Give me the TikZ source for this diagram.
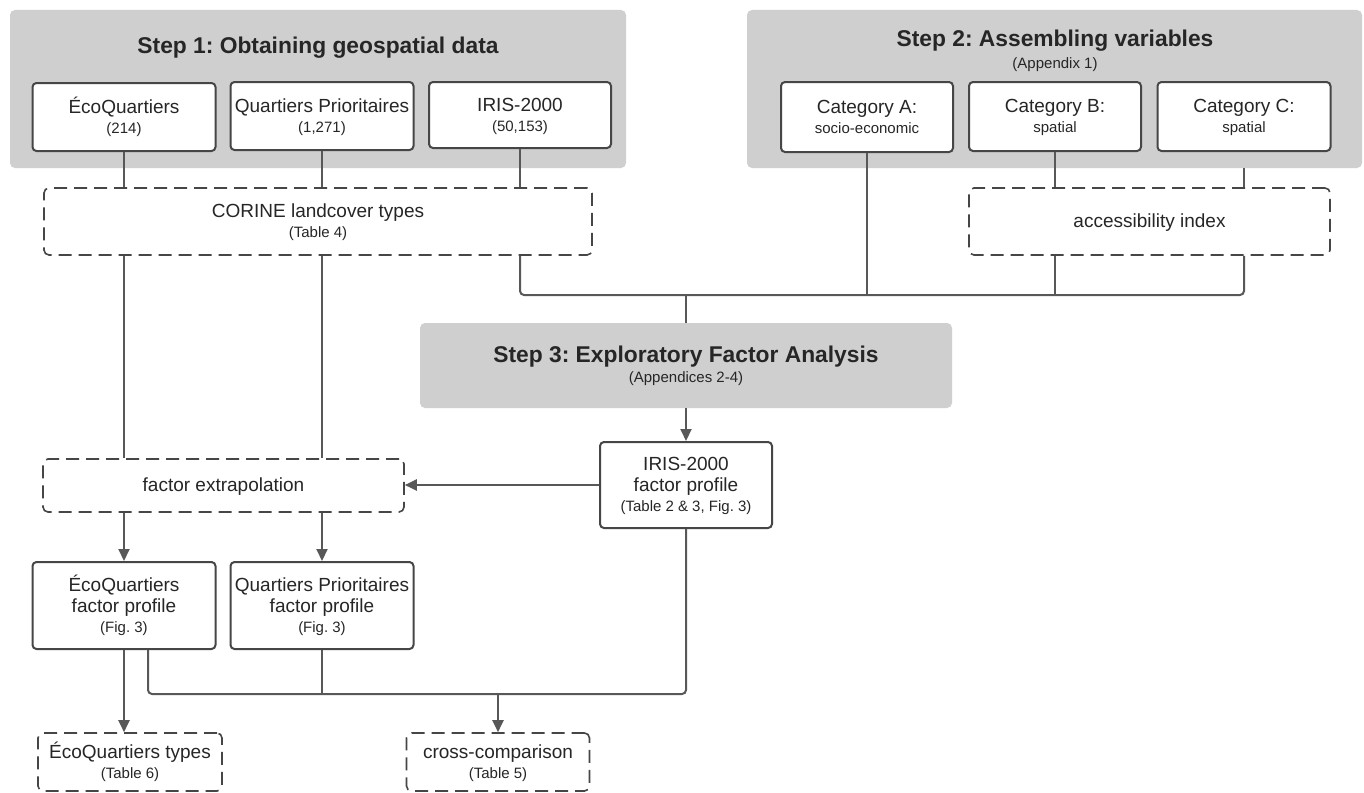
\documentclass[tikz,border=0pt]{standalone}
\usepackage{fontspec}
\setmainfont{Liberation Sans}
\usetikzlibrary{arrows.meta}
\definecolor{stepgray}{RGB}{207,207,207}
\definecolor{edge}{RGB}{70,70,70}
\definecolor{wire}{RGB}{88,88,88}
\definecolor{ink}{RGB}{38,38,38}
\newcommand{\mainf}{\fontsize{19}{20}\selectfont}
\newcommand{\smallf}{\fontsize{15}{17}\selectfont}
\newcommand{\titlef}{\fontsize{22.8}{24}\selectfont\bfseries}
\newcommand{\tops}{\rule{0pt}{16pt}}
\newcommand{\bots}{\rule[-4pt]{0pt}{4pt}}
\frenchspacing
\begin{document}
\frenchspacing
\begin{tikzpicture}[x=1pt,y=-1pt,
  stepbg/.style={fill=stepgray, rounded corners=5pt, inner sep=0pt, draw=none, align=center, text=ink},
  solidbox/.style={draw=edge, line width=2pt, fill=white, rounded corners=4pt, inner sep=0pt, align=center, text=ink, font=\mainf},
  dashbox/.style={draw=edge, line width=1.6pt, dash pattern=on 13pt off 7pt, rounded corners=5pt, inner sep=0pt, align=center, text=ink, font=\mainf, fill=white},
  conn/.style={draw=wire, line width=2pt, rounded corners=4pt},
  arr/.style={conn, -{Triangle[length=12pt,width=11pt]}},
  titlenode/.style={inner sep=0pt, align=center, text=ink},
]
\useasboundingbox (0,0) rectangle (1364,792);
\fill[white] (0,0) rectangle (1364,792);

% step backgrounds
\node[stepbg, minimum width=616pt, minimum height=158pt] (step1) at (318,89) {};
\node[stepbg, minimum width=615pt, minimum height=158pt] (step2) at (1054.5,89) {};
\node[stepbg, minimum width=532pt, minimum height=85pt] (step3) at (686,365.5)
  {\titlef Step 3: Exploratory Factor Analysis\\[3.5pt]{\smallf (Appendices 2-4)}};

\node[titlenode] (step1title) at (318,47.5) {\titlef Step 1: Obtaining geospatial data};
\node[titlenode] (step2title) at (1055,50.5) {\titlef Step 2: Assembling variables\\[5.5pt]{\smallf (Appendix 1)}};

% step 1 boxes
\node[solidbox, minimum width=183pt, minimum height=68pt] (eco) at (124,117)
  {\tops ÉcoQuartiers\\{\smallf (214)}\bots};
\node[solidbox, minimum width=183pt, minimum height=68pt] (qp) at (322,116)
  {\tops Quartiers Prioritaires\\{\smallf (1,271)}\bots};
\node[solidbox, minimum width=182pt, minimum height=66pt] (iris) at (520,115)
  {\tops IRIS-2000\\{\smallf (50,153)}\bots};

% step 2 boxes
\node[solidbox, minimum width=172pt, minimum height=70pt] (catA) at (867,117)
  {\tops Category A:\\{\smallf socio-economic}\bots};
\node[solidbox, minimum width=172pt, minimum height=69pt] (catB) at (1055,116.5)
  {\tops Category B:\\{\smallf spatial}\bots};
\node[solidbox, minimum width=173pt, minimum height=69pt] (catC) at (1244,116.5)
  {\tops Category C:\\{\smallf spatial}\bots};

% dashed boxes
\node[dashbox, minimum width=548pt, minimum height=67pt] (corine) at (318,221.5)
  {\tops CORINE landcover types\\{\smallf (Table 4)}\bots};
\node[dashbox, minimum width=361pt, minimum height=67pt] (access) at (1149.5,221.5)
  {\tops accessibility index\bots};
\node[dashbox, minimum width=361pt, minimum height=53pt] (fextra) at (223.5,485.5)
  {\tops factor extrapolation\bots};
\node[dashbox, minimum width=184pt, minimum height=58pt] (ecot) at (130,762)
  {\tops ÉcoQuartiers types\\{\smallf (Table 6)}\bots};
\node[dashbox, minimum width=183pt, minimum height=58pt] (cross) at (498,762)
  {\tops cross-comparison\\{\smallf (Table 5)}\bots};

% factor profile boxes
\node[solidbox, minimum width=172pt, minimum height=86pt] (irisf) at (686,485)
  {\tops IRIS-2000\\[1pt]factor profile\\{\smallf (Table 2 \& 3, Fig. 3)}\bots};
\node[solidbox, minimum width=183pt, minimum height=87pt] (ecof) at (124,605.5)
  {\tops ÉcoQuartiers\\[1pt]factor profile\\{\smallf (Fig. 3)}\bots};
\node[solidbox, minimum width=183pt, minimum height=87pt] (qpf) at (322,605.5)
  {\tops Quartiers Prioritaires\\[1pt]factor profile\\{\smallf (Fig. 3)}\bots};

\coordinate (bus1) at (0,295);
\coordinate (bus2) at (0,694);

% connectors
\draw[conn] (eco.south) -- (eco.south |- corine.north);
\draw[conn] (qp.south) -- (qp.south |- corine.north);
\draw[conn] (iris.south) -- (iris.south |- corine.north);
\draw[conn] (catA.south) -- (catA.south |- bus1);
\draw[conn] (catB.south) -- (catB.south |- access.north);
\draw[conn] (step2.south -| catC.south) -- (catC.south |- access.north);
\draw[conn] (corine.south -| eco.south) -- (fextra.north -| eco.south);
\draw[conn] (corine.south -| qp.south) -- (fextra.north -| qp.south);
\draw[conn] (corine.south -| iris.south) -- (iris.south |- bus1) -- (catC.south |- bus1) -- (access.south -| catC.south);
\draw[conn] (access.south -| catB.south) -- (catB.south |- bus1);
\draw[conn] (step3.north) -- (step3.north |- bus1);
\draw[arr] (step3.south) -- (irisf.north);
\draw[arr] (irisf.west) -- (irisf.west -| fextra.east);
\draw[arr] (fextra.south -| ecof.north) -- (ecof.north);
\draw[arr] (fextra.south -| qpf.north) -- (qpf.north);
\draw[arr] (ecof.south) -- (ecof.south |- ecot.north);
\draw[conn] ([xshift=24pt]ecof.south) -- ([xshift=24pt]ecof.south |- bus2) -- (irisf.south |- bus2) -- (irisf.south);
\draw[conn] (qpf.south) -- (qpf.south |- bus2);
\draw[arr] (cross.north |- bus2) -- (cross.north);
\end{tikzpicture}
\end{document}
